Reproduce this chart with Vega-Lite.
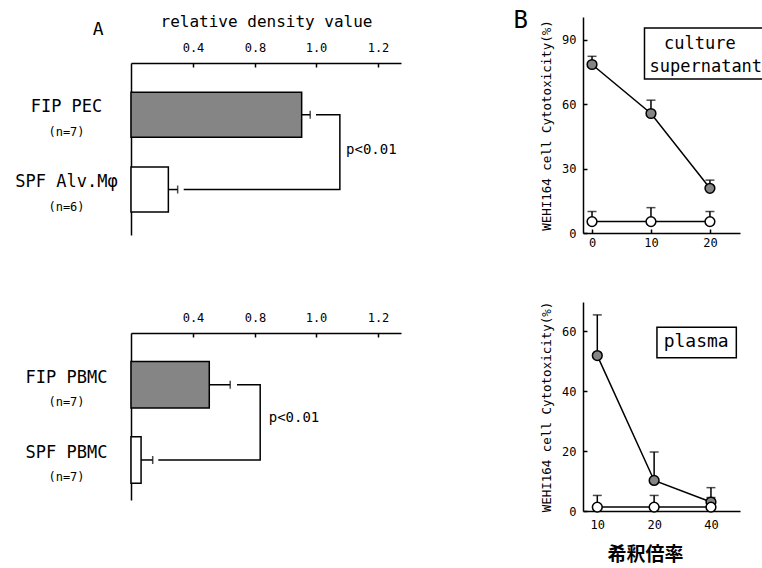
{
  "$schema": "https://vega.github.io/schema/vega-lite/v6.json",
  "background": "white",
  "padding": {"left": 14, "top": 9, "right": 0, "bottom": 0},
  "config": {
    "view": {"stroke": null},
    "font": "DejaVu Sans Mono",
    "axis": {"grid": false, "domainColor": "black", "tickColor": "black", "labelColor": "black", "titleColor": "black", "labelFont": "DejaVu Sans Mono", "titleFont": "DejaVu Sans Mono", "titleFontWeight": "normal", "domainWidth": 1.5, "tickWidth": 1.5},
    "title": {"font": "DejaVu Sans Mono", "fontWeight": "normal", "color": "black", "offset": 0}
  },
  "datasets": {
    "a1": [
      {"group": "FIP PEC (n=7)", "cohort": "FIP", "value": 0.953, "upper": 0.981},
      {"group": "SPF Alv.Mφ (n=6)", "cohort": "SPF", "value": 0.241, "upper": 0.301}
    ],
    "a1br": [
      {"group": "FIP PEC (n=7)", "x": 1.0, "step": 1},
      {"group": "FIP PEC (n=7)", "x": 1.077, "step": 2},
      {"group": "SPF Alv.Mφ (n=6)", "x": 1.077, "step": 3},
      {"group": "SPF Alv.Mφ (n=6)", "x": 0.34, "step": 4}
    ],
    "a1p": [{"group": "FIP PEC (n=7)", "x": 1.097, "label": "p<0.01"}],
    "a2": [
      {"group": "FIP PBMC (n=7)", "cohort": "FIP", "value": 0.505, "upper": 0.64},
      {"group": "SPF PBMC (n=7)", "cohort": "SPF", "value": 0.065, "upper": 0.14}
    ],
    "a2br": [
      {"group": "FIP PBMC (n=7)", "x": 0.684, "step": 1},
      {"group": "FIP PBMC (n=7)", "x": 0.817, "step": 2},
      {"group": "SPF PBMC (n=7)", "x": 0.817, "step": 3},
      {"group": "SPF PBMC (n=7)", "x": 0.176, "step": 4}
    ],
    "a2p": [{"group": "FIP PBMC (n=7)", "x": 0.845, "label": "p<0.01"}],
    "b1": [
      {"dilution": 0, "cohort": "FIP", "value": 78.4, "upper": 82.2},
      {"dilution": 10, "cohort": "FIP", "value": 55.6, "upper": 61.8},
      {"dilution": 20, "cohort": "FIP", "value": 20.8, "upper": 24.6},
      {"dilution": 0, "cohort": "SPF", "value": 5.3, "upper": 10.0},
      {"dilution": 10, "cohort": "SPF", "value": 5.3, "upper": 11.8},
      {"dilution": 20, "cohort": "SPF", "value": 5.3, "upper": 10.0}
    ],
    "b1box": [{"x1": 8.9, "x2": 29.0, "y1": 95.4, "y2": 71.6}],
    "b1txt": [{"x": 18.3, "y": 87.8, "label": "culture"}, {"x": 19.3, "y": 77.1, "label": "supernatant"}],
    "b2": [
      {"dilution": 10, "cohort": "FIP", "value": 51.9, "upper": 65.5},
      {"dilution": 20, "cohort": "FIP", "value": 10.2, "upper": 19.7},
      {"dilution": 40, "cohort": "FIP", "value": 3.0, "upper": 7.8},
      {"dilution": 10, "cohort": "SPF", "value": 1.3, "upper": 5.2},
      {"dilution": 20, "cohort": "SPF", "value": 1.3, "upper": 5.2},
      {"dilution": 40, "cohort": "SPF", "value": 1.3, "upper": 4.5}
    ],
    "b2box": [{"x1": 20.7, "x2": 54.5, "y1": 61.4, "y2": 51.2}],
    "b2txt": [{"x": 33.4, "y": 56.3, "label": "plasma"}]
  },
  "hconcat": [
    {
      "vconcat": [
        {
          "width": 270,
          "height": 218,
          "title": {"text": "A", "anchor": "start", "dx": 78, "dy": 30, "fontSize": 18},
          "layer": [
            {
              "data": {"name": "a1"},
              "mark": {"type": "bar", "stroke": "black", "strokeWidth": 1.5},
              "encoding": {
                "y": {"field": "group", "type": "nominal", "sort": null,
                  "scale": {"type": "band", "range": [46, 218], "paddingInner": 0.4, "paddingOuter": 0.35, "align": 0.56},
                  "axis": {"orient": "left", "title": null, "ticks": false, "labelAlign": "center", "labelPadding": 65, "labelFontSize": 17, "labelOffset": -8, "labelExpr": "split(datum.label, ' (')[0]"}},
                "x": {"field": "value", "type": "quantitative",
                  "scale": {"domain": [0, 0.4, 0.8, 1.0, 1.2, 1.275], "range": [0, 62, 124, 185, 247, 270], "nice": false},
                  "axis": {"orient": "top", "offset": -46, "values": [0.4, 0.8, 1.0, 1.2], "format": ".1f", "tickSize": -4, "labelPadding": 13, "labelFontSize": 12, "title": "relative density value", "titleFontSize": 16, "titlePadding": 12}},
                "fill": {"field": "cohort", "type": "nominal", "scale": {"domain": ["FIP", "SPF"], "range": ["#858585", "white"]}, "legend": null}
              }
            },
            {
              "data": {"name": "a1"},
              "mark": {"type": "rule", "stroke": "black", "strokeWidth": 1.5},
              "encoding": {
                "y": {"field": "group", "type": "nominal", "sort": null,
                  "axis": {"orient": "left", "title": null, "ticks": false, "domain": false, "labelAlign": "center", "labelPadding": 65, "labelFontSize": 12, "labelOffset": 17, "labelExpr": "'(' + split(datum.label, ' (')[1]"}},
                "x": {"field": "value", "type": "quantitative"},
                "x2": {"field": "upper"}
              }
            },
            {
              "data": {"name": "a1"},
              "mark": {"type": "tick", "orient": "vertical", "color": "black", "size": 8, "thickness": 1.5},
              "encoding": {
                "y": {"field": "group", "type": "nominal", "sort": null, "axis": null},
                "x": {"field": "upper", "type": "quantitative"}
              }
            },
            {
              "data": {"name": "a1br"},
              "mark": {"type": "line", "color": "black", "strokeWidth": 1.5},
              "encoding": {
                "y": {"field": "group", "type": "nominal", "sort": null, "axis": null},
                "x": {"field": "x", "type": "quantitative"},
                "order": {"field": "step", "type": "quantitative"}
              }
            },
            {
              "data": {"name": "a1p"},
              "mark": {"type": "text", "align": "left", "baseline": "middle", "dy": 13, "fontSize": 14, "color": "black"},
              "encoding": {
                "y": {"field": "group", "type": "nominal", "sort": null, "bandPosition": 1, "axis": null},
                "x": {"field": "x", "type": "quantitative"},
                "text": {"field": "label"}
              }
            }
          ],
          "resolve": {"axis": {"y": "independent"}}
        },
        {
          "width": 270,
          "height": 167,
          "layer": [
            {
              "data": {"name": "a2"},
              "mark": {"type": "bar", "stroke": "black", "strokeWidth": 1.5},
              "encoding": {
                "y": {"field": "group", "type": "nominal", "sort": null,
                  "scale": {"type": "band", "paddingInner": 0.38, "paddingOuter": 0.3, "align": 0.63},
                  "axis": {"orient": "left", "title": null, "ticks": false, "labelAlign": "center", "labelPadding": 65, "labelFontSize": 17, "labelOffset": -7, "labelExpr": "split(datum.label, ' (')[0]"}},
                "x": {"field": "value", "type": "quantitative",
                  "scale": {"domain": [0, 0.4, 0.8, 1.0, 1.2, 1.275], "range": [0, 62, 124, 185, 247, 270], "nice": false},
                  "axis": {"orient": "top", "values": [0.4, 0.8, 1.0, 1.2], "format": ".1f", "tickSize": -4, "labelPadding": 13, "labelFontSize": 12, "title": null}},
                "fill": {"field": "cohort", "type": "nominal", "scale": {"domain": ["FIP", "SPF"], "range": ["#858585", "white"]}, "legend": null}
              }
            },
            {
              "data": {"name": "a2"},
              "mark": {"type": "rule", "stroke": "black", "strokeWidth": 1.5},
              "encoding": {
                "y": {"field": "group", "type": "nominal", "sort": null,
                  "axis": {"orient": "left", "title": null, "ticks": false, "domain": false, "labelAlign": "center", "labelPadding": 65, "labelFontSize": 12, "labelOffset": 17, "labelExpr": "'(' + split(datum.label, ' (')[1]"}},
                "x": {"field": "value", "type": "quantitative"},
                "x2": {"field": "upper"}
              }
            },
            {
              "data": {"name": "a2"},
              "mark": {"type": "tick", "orient": "vertical", "color": "black", "size": 8, "thickness": 1.5},
              "encoding": {
                "y": {"field": "group", "type": "nominal", "sort": null, "axis": null},
                "x": {"field": "upper", "type": "quantitative"}
              }
            },
            {
              "data": {"name": "a2br"},
              "mark": {"type": "line", "color": "black", "strokeWidth": 1.5},
              "encoding": {
                "y": {"field": "group", "type": "nominal", "sort": null, "axis": null},
                "x": {"field": "x", "type": "quantitative"},
                "order": {"field": "step", "type": "quantitative"}
              }
            },
            {
              "data": {"name": "a2p"},
              "mark": {"type": "text", "align": "left", "baseline": "middle", "dy": 10, "fontSize": 14, "color": "black"},
              "encoding": {
                "y": {"field": "group", "type": "nominal", "sort": null, "bandPosition": 1, "axis": null},
                "x": {"field": "x", "type": "quantitative"},
                "text": {"field": "label"}
              }
            }
          ],
          "resolve": {"axis": {"y": "independent"}}
        }
      ],
      "spacing": 76
    },
    {
      "vconcat": [
        {
          "width": 157,
          "height": 216,
          "title": {"text": "B", "anchor": "start", "dx": -27, "dy": 20, "fontSize": 24},
          "layer": [
            {
              "data": {"name": "b1"},
              "mark": {"type": "line", "color": "black", "strokeWidth": 1.5},
              "encoding": {
                "x": {"field": "dilution", "type": "quantitative",
                  "scale": {"domain": [-1.53, 25.1], "nice": false, "zero": false},
                  "axis": {"values": [0, 10, 20], "tickSize": -4, "labelPadding": 8, "labelFontSize": 12, "title": null}},
                "y": {"field": "value", "type": "quantitative",
                  "scale": {"domain": [0, 100.5], "nice": false},
                  "axis": {"values": [0, 30, 60, 90], "tickSize": -4, "labelPadding": 11, "labelFontSize": 12, "title": "WEHI164 cell Cytotoxicity(%)", "titleFontSize": 12.5, "titlePadding": 8}},
                "detail": {"field": "cohort"}
              }
            },
            {
              "data": {"name": "b1"},
              "mark": {"type": "rule", "color": "black", "strokeWidth": 1.5},
              "encoding": {
                "x": {"field": "dilution", "type": "quantitative"},
                "y": {"field": "value", "type": "quantitative"},
                "y2": {"field": "upper"}
              }
            },
            {
              "data": {"name": "b1"},
              "mark": {"type": "tick", "orient": "horizontal", "color": "black", "size": 9, "thickness": 1.5},
              "encoding": {
                "x": {"field": "dilution", "type": "quantitative"},
                "y": {"field": "upper", "type": "quantitative"}
              }
            },
            {
              "data": {"name": "b1"},
              "mark": {"type": "point", "shape": "circle", "filled": true, "stroke": "black", "strokeWidth": 1.5, "size": 95, "opacity": 1},
              "encoding": {
                "x": {"field": "dilution", "type": "quantitative"},
                "y": {"field": "value", "type": "quantitative"},
                "fill": {"field": "cohort", "type": "nominal", "scale": {"domain": ["FIP", "SPF"], "range": ["#808080", "white"]}, "legend": null}
              }
            },
            {
              "data": {"name": "b1box"},
              "mark": {"type": "rect", "fill": "white", "stroke": "black", "strokeWidth": 1.5},
              "encoding": {
                "x": {"field": "x1", "type": "quantitative"},
                "x2": {"field": "x2"},
                "y": {"field": "y1", "type": "quantitative"},
                "y2": {"field": "y2"}
              }
            },
            {
              "data": {"name": "b1txt"},
              "mark": {"type": "text", "fontSize": 17, "color": "black", "align": "center", "baseline": "middle"},
              "encoding": {
                "x": {"field": "x", "type": "quantitative"},
                "y": {"field": "y", "type": "quantitative"},
                "text": {"field": "label"}
              }
            }
          ]
        },
        {
          "width": 157,
          "height": 209,
          "layer": [
            {
              "data": {"name": "b2"},
              "mark": {"type": "line", "color": "black", "strokeWidth": 1.5},
              "encoding": {
                "x": {"field": "dilution", "type": "quantitative",
                  "scale": {"type": "log", "base": 2, "domain": [8.4, 57.0], "nice": false},
                  "axis": {"values": [10, 20, 40], "format": "d", "tickSize": -4, "labelPadding": 12, "labelFontSize": 12, "title": "希釈倍率", "titleFont": "Noto Sans CJK JP", "titleFontSize": 19, "titleFontWeight": "bold", "titlePadding": 15, "titleX": 62}},
                "y": {"field": "value", "type": "quantitative",
                  "scale": {"domain": [0, 69.8], "nice": false},
                  "axis": {"values": [0, 20, 40, 60], "tickSize": -4, "labelPadding": 11, "labelFontSize": 12, "title": "WEHI164 cell Cytotoxicity(%)", "titleFontSize": 12.5, "titlePadding": 8}},
                "detail": {"field": "cohort"}
              }
            },
            {
              "data": {"name": "b2"},
              "mark": {"type": "rule", "color": "black", "strokeWidth": 1.5},
              "encoding": {
                "x": {"field": "dilution", "type": "quantitative"},
                "y": {"field": "value", "type": "quantitative"},
                "y2": {"field": "upper"}
              }
            },
            {
              "data": {"name": "b2"},
              "mark": {"type": "tick", "orient": "horizontal", "color": "black", "size": 9, "thickness": 1.5},
              "encoding": {
                "x": {"field": "dilution", "type": "quantitative"},
                "y": {"field": "upper", "type": "quantitative"}
              }
            },
            {
              "data": {"name": "b2"},
              "mark": {"type": "point", "shape": "circle", "filled": true, "stroke": "black", "strokeWidth": 1.5, "size": 95, "opacity": 1},
              "encoding": {
                "x": {"field": "dilution", "type": "quantitative"},
                "y": {"field": "value", "type": "quantitative"},
                "fill": {"field": "cohort", "type": "nominal", "scale": {"domain": ["FIP", "SPF"], "range": ["#808080", "white"]}, "legend": null}
              }
            },
            {
              "data": {"name": "b2box"},
              "mark": {"type": "rect", "fill": "white", "stroke": "black", "strokeWidth": 1.5},
              "encoding": {
                "x": {"field": "x1", "type": "quantitative"},
                "x2": {"field": "x2"},
                "y": {"field": "y1", "type": "quantitative"},
                "y2": {"field": "y2"}
              }
            },
            {
              "data": {"name": "b2txt"},
              "mark": {"type": "text", "fontSize": 18, "color": "black", "align": "center", "baseline": "middle"},
              "encoding": {
                "x": {"field": "x", "type": "quantitative"},
                "y": {"field": "y", "type": "quantitative"},
                "text": {"field": "label"}
              }
            }
          ]
        }
      ],
      "spacing": 53
    }
  ],
  "spacing": 112
}
